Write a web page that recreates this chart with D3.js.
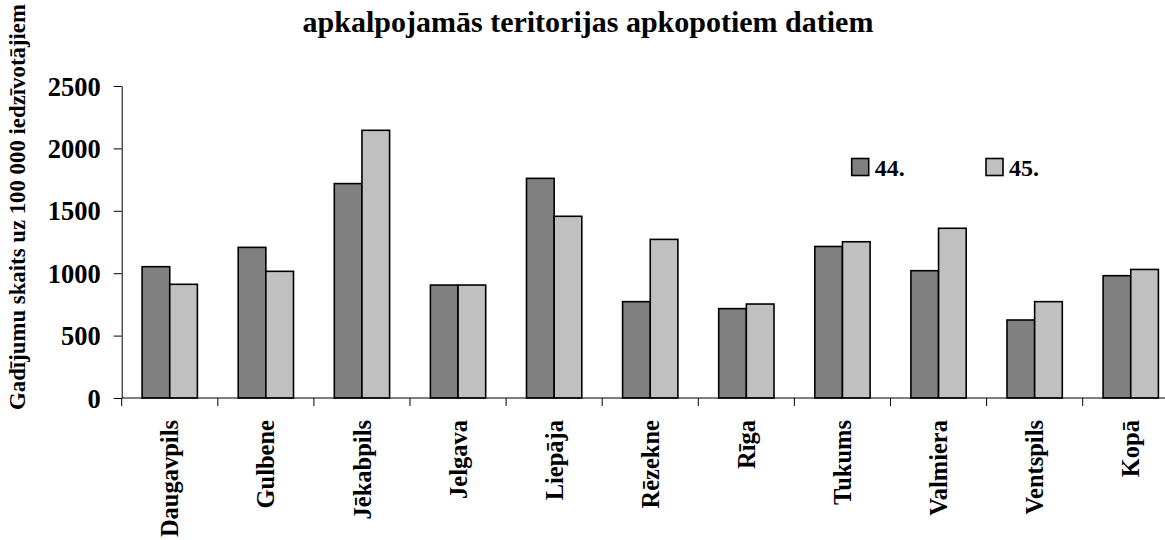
<!DOCTYPE html>
<html>
<head>
<meta charset="utf-8">
<script src="https://cdn.jsdelivr.net/npm/d3@7"></script>
<style>
  body { margin: 0; background: #fff; }
  svg text { font-family: "Times New Roman", "Liberation Serif", Times, "DejaVu Serif", serif !important; font-weight: bold; fill: #000; }
</style>
</head>
<body>
<div class="chart"></div>
<script>
// categories and the two series (44. and 45. week)
var categories = ["Daugavpils", "Gulbene", "Jēkabpils", "Jelgava", "Liepāja", "Rēzekne",
  "Rīga", "Tukums", "Valmiera", "Ventspils", "Kopā"];
var seriesNames = ["44.", "45."];
var week44 = [1052, 1207, 1718, 905, 1760, 772, 716, 1214, 1020, 625, 980];
var week45 = [911, 1015, 2145, 905, 1456, 1271, 753, 1252, 1360, 772, 1030];
var yTicks = [0, 500, 1000, 1500, 2000, 2500];

var colors = ["#808080", "#c0c0c0"];

var svgWidth = 1165, svgHeight = 540;
var margin = { top: 86, left: 121.7, bottom: 142 };
var catWidth = 96.1;
var height = svgHeight - margin.top - margin.bottom;

var svg = d3.select(".chart").append("svg")
  .attr("width", svgWidth)
  .attr("height", svgHeight);

var chartGroup = svg.append("g")
  .attr("transform", `translate(${margin.left}, ${margin.top})`);

var x = d3.scaleBand()
  .domain(categories)
  .range([0, catWidth * categories.length])
  .padding(0);

var xInner = d3.scaleBand()
  .domain(seriesNames)
  .range([0, x.bandwidth()])
  .paddingInner(0)
  .paddingOuter(0.738);

var y = d3.scaleLinear().domain([0, 2500]).range([height, 0]);

// bars
var rows = categories.map((c, i) => ({ cat: c, values: [week44[i], week45[i]] }));

var groups = chartGroup.selectAll(".grp")
  .data(rows)
  .enter()
  .append("g")
  .attr("transform", d => `translate(${x(d.cat)}, 0)`);

groups.selectAll("rect")
  .data(d => d.values.map((v, j) => ({ key: seriesNames[j], value: v, j: j })))
  .enter()
  .append("rect")
  .attr("x", d => xInner(d.key))
  .attr("y", d => y(d.value))
  .attr("width", xInner.bandwidth())
  .attr("height", d => height - y(d.value))
  .attr("fill", d => colors[d.j])
  .attr("stroke", "#000")
  .attr("stroke-width", 1.6);

// y axis
var yAxis = d3.axisLeft(y)
  .tickValues(yTicks)
  .tickFormat(d3.format("d"))
  .tickSize(8)
  .tickSizeOuter(0)
  .tickPadding(13);

var yG = chartGroup.append("g").call(yAxis).attr("font-family", null);
yG.selectAll("text").style("font-size", "26.5px").attr("dy", "0.34em");
yG.selectAll("line, path").attr("stroke", "#000");

// x axis line with ticks at category boundaries
var xG = chartGroup.append("g").attr("transform", `translate(0, ${height})`);
xG.append("line")
  .attr("x1", 0).attr("x2", x.range()[1])
  .attr("stroke", "#000");
xG.selectAll(".tk")
  .data(categories.concat(["_end"]))
  .enter()
  .append("line")
  .attr("x1", (d, i) => i * x.step())
  .attr("x2", (d, i) => i * x.step())
  .attr("y1", 0).attr("y2", 8)
  .attr("stroke", "#000");

xG.selectAll(".lbl")
  .data(categories)
  .enter()
  .append("text")
  .attr("transform", d => `translate(${x(d) + x.bandwidth() / 2}, 22) rotate(-90)`)
  .attr("dy", "0.35em")
  .attr("text-anchor", "end")
  .style("font-size", "24.5px")
  .text(d => d);

// title (second line visible)
svg.append("text")
  .attr("x", 588)
  .attr("y", 32)
  .attr("text-anchor", "middle")
  .style("font-size", "30px")
  .text("apkalpojamās teritorijas apkopotiem datiem");

// y axis title
svg.append("text")
  .attr("transform", "translate(17, 410) rotate(-90)")
  .attr("dy", "0.35em")
  .attr("text-anchor", "start")
  .style("font-size", "22.8px")
  .text("Gadījumu skaits uz 100 000 iedzīvotājiem");

// legend
var legend = svg.append("g");
var legendX = [851.7, 986];
seriesNames.forEach(function (s, i) {
  legend.append("rect")
    .attr("x", legendX[i]).attr("y", 158.5)
    .attr("width", 17).attr("height", 17)
    .attr("fill", colors[i])
    .attr("stroke", "#000")
    .attr("stroke-width", 1.6);
  legend.append("text")
    .attr("x", legendX[i] + 23)
    .attr("y", 175.5)
    .style("font-size", "24px")
    .text(s);
});
</script>
</body>
</html>
